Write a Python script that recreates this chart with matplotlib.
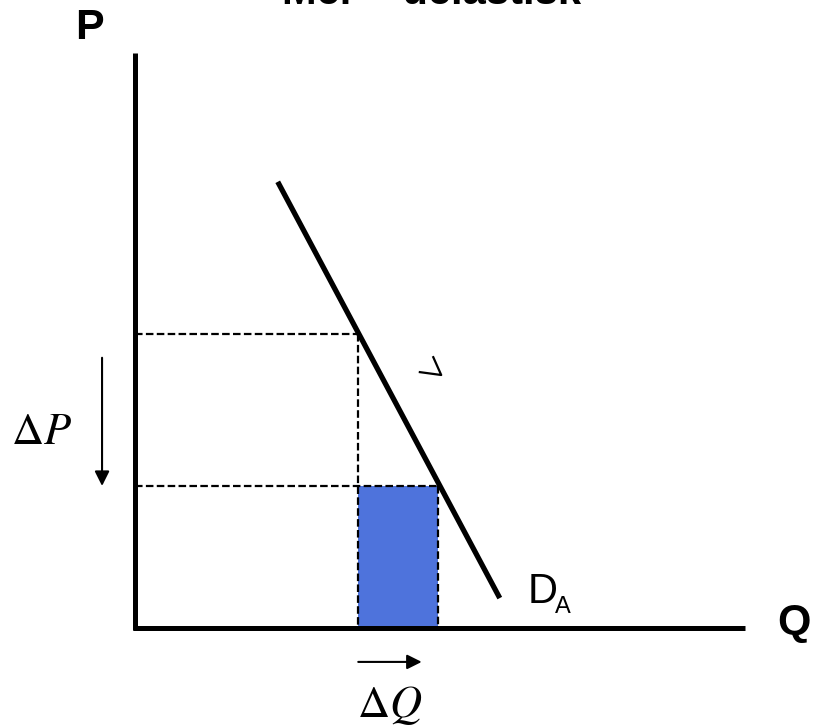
import matplotlib.pyplot as plt
from matplotlib.patches import Rectangle

# Diagram values (Q horizontal, P vertical, axis runs 0..10)
axis_max = 10.0
demand_q = [2.34, 5.98]
demand_p = [7.76, 0.52]
price_levels = [5.11, 2.47]      # P1 (higher), P2 (lower)
quantity_levels = [3.66, 4.96]   # Q1, Q2
title_text = 'Mer \u2013 uelastisk'
curve_label = 'D'
curve_sub = 'A'

BLUE = '#4E73DC'
SANS = ['Liberation Sans', 'DejaVu Sans']

plt.rcParams['mathtext.fontset'] = 'stix'

fig = plt.figure(figsize=(8.13, 7.27), dpi=100, facecolor='white')
ax = fig.add_axes([0, 0, 1, 1])
ax.set_xlim(-2.213, 11.115)
ax.set_ylim(-1.722, 10.922)
ax.axis('off')

# axes as thick lines
ax.plot([0, 0], [-0.03, axis_max], color='black', lw=3.6, solid_capstyle='butt')
ax.plot([-0.03, axis_max], [0, 0], color='black', lw=3.6, solid_capstyle='butt')

# shaded area between Q1 and Q2 below P2
q1, q2 = quantity_levels
p1, p2 = price_levels
ax.add_patch(Rectangle((q1, 0), q2 - q1, p2, facecolor=BLUE, edgecolor='none', zorder=1))

# dashed guide lines
dash = dict(color='black', lw=1.6, dashes=(3.4, 1.5), zorder=2)
ax.plot([0, q1], [p1, p1], **dash)
ax.plot([q1, q1], [p1, 0], **dash)
ax.plot([0, q2], [p2, p2], **dash)
ax.plot([q2, q2], [p2, 0], **dash)

# demand curve
ax.plot(demand_q, demand_p, color='black', lw=3.8, solid_capstyle='butt', zorder=3)

# small tick mark next to the curve
ax.plot([4.67, 5.02, 4.89], [4.45, 4.40, 4.71], color='black', lw=1.6)

# change arrows
ax.annotate('', xy=(-0.54, p2), xytext=(-0.54, 4.70),
            arrowprops=dict(arrowstyle='-|>', color='black', lw=1.5,
                            mutation_scale=22, shrinkA=0, shrinkB=0))
ax.annotate('', xy=(4.70, -0.59), xytext=(q1, -0.59),
            arrowprops=dict(arrowstyle='-|>', color='black', lw=1.5,
                            mutation_scale=22, shrinkA=0, shrinkB=0))

ax.text(-1.54, 3.41, r'$\Delta P$', fontsize=32, ha='center', va='center')
ax.text(4.18, -1.34, r'$\Delta Q$', fontsize=32, ha='center', va='center')

# axis labels
ax.text(-0.74, 10.43, 'P', fontsize=31, fontweight='bold', family=SANS,
        ha='center', va='center')
ax.text(10.80, 0.09, 'Q', fontsize=31, fontweight='bold', family=SANS,
        ha='center', va='center')

# curve label D_A
ax.text(6.43, 0.43, curve_label, fontsize=30, family=SANS, ha='left', va='baseline')
ax.text(6.89, 0.26, curve_sub, fontsize=17, family=SANS, ha='left', va='baseline')

# title (partly cut off at the top in the original)
fig.text(0.531, 0.9945, title_text, fontsize=30, fontweight='bold', family=SANS,
         ha='center', va='baseline')

fig.savefig('out.png', dpi=100, facecolor='white')
